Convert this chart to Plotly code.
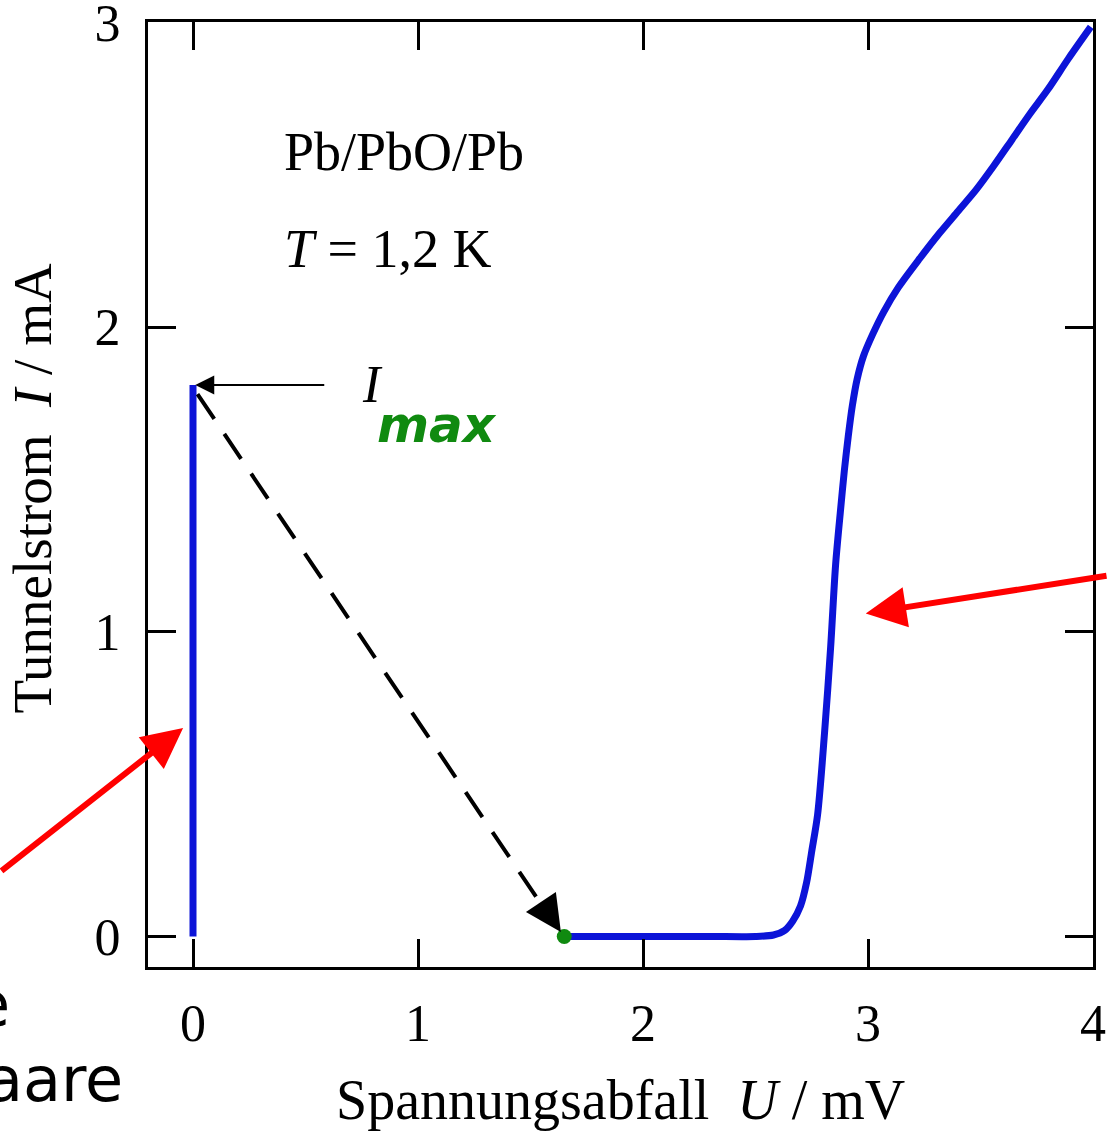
import plotly.graph_objects as go

# ---------------- data ----------------
# supercurrent branch (U = 0)
U_super = [0.0, 0.0]
I_super = [0.0, 1.81]

# quasiparticle tunnelling branch
U_quasi = [1.65, 2.00, 2.30, 2.50, 2.58, 2.63, 2.665, 2.70, 2.727, 2.75, 2.776,
           2.807, 2.834, 2.856, 2.878, 2.895, 2.912, 2.93, 2.952, 2.98, 3.02,
           3.07, 3.135, 3.23, 3.32, 3.40, 3.48, 3.56, 3.64, 3.72, 3.80, 3.89, 3.99]
I_quasi = [0.0, 0.0, 0.0, 0.0, 0.005, 0.02, 0.05, 0.10, 0.177, 0.28, 0.40,
           0.67, 0.95, 1.22, 1.40, 1.53, 1.64, 1.74, 1.83, 1.905, 1.975,
           2.05, 2.13, 2.225, 2.31, 2.38, 2.45, 2.53, 2.615, 2.70, 2.78, 2.88, 2.985]

I_max = 1.81      # critical current
U_jump = 1.65     # voltage after the switch

x_ticks = [0, 1, 2, 3, 4]
x_tick_text = ["0", "1", "2", "3", "4"]
y_ticks = [0, 1, 2, 3]
y_tick_text = ["0", "1", "2", "3"]

BLUE = "#0c14d8"
SERIF = "Liberation Serif"

fig = go.Figure()

fig.add_trace(go.Scatter(x=U_super, y=I_super, mode="lines",
                         line=dict(color=BLUE, width=7), showlegend=False))
fig.add_trace(go.Scatter(x=U_quasi, y=I_quasi, mode="lines",
                         line=dict(color=BLUE, width=7, shape="spline", smoothing=0.8),
                         showlegend=False))
# dashed switching line
fig.add_trace(go.Scatter(x=[U_super[-1] + 0.02, U_jump - 0.07], y=[I_max - 0.03, 0.07],
                         mode="lines", line=dict(color="black", width=4, dash="30px,18px"),
                         showlegend=False))
# green dot
fig.add_trace(go.Scatter(x=[U_jump], y=[0.0], mode="markers",
                         marker=dict(color="#108a10", size=15, symbol="circle"),
                         showlegend=False))

ann = []
# arrowhead of dashed line
ann.append(dict(x=U_jump - 0.015, y=0.015, xref="x", yref="y", ax=-20, ay=-30,
                showarrow=True, arrowhead=2, arrowsize=1.8, arrowwidth=4,
                arrowcolor="black", text=""))
# I_max horizontal arrow
ann.append(dict(x=0.01, y=I_max, xref="x", yref="y", ax=0.59, ay=I_max,
                axref="x", ayref="y", showarrow=True, arrowhead=2, arrowsize=1.9,
                arrowwidth=2, arrowcolor="black", text=""))
ann.append(dict(x=0.74, y=1.81, xref="x", yref="y", text="<i>I</i>", showarrow=False,
                xanchor="left", yanchor="middle", font=dict(family=SERIF, size=52, color="black")))
ann.append(dict(x=0.81, y=1.68, xref="x", yref="y", text="<b><i>max</i></b>", showarrow=False,
                xanchor="left", yanchor="middle", font=dict(family="DejaVu Sans", size=50, color="#108a10")))
# sample text
ann.append(dict(x=0.396, y=2.575, xref="x", yref="y", text="Pb/PbO/Pb", showarrow=False,
                xanchor="left", yanchor="middle", font=dict(family=SERIF, size=54, color="black")))
ann.append(dict(x=0.396, y=2.255, xref="x", yref="y", text="<i>T</i> = 1,2 K", showarrow=False,
                xanchor="left", yanchor="middle", font=dict(family=SERIF, size=54, color="black")))
# red arrows
ann.append(dict(x=-0.044, y=0.684, xref="x", yref="y", ax=-213, ay=144,
                showarrow=True, arrowhead=2, arrowsize=1.35, arrowwidth=6,
                arrowcolor="#ff0000", text=""))
ann.append(dict(x=2.99, y=1.06, xref="x", yref="y", ax=270, ay=-38,
                showarrow=True, arrowhead=2, arrowsize=1.35, arrowwidth=6,
                arrowcolor="#ff0000", text=""))
# axis titles
ann.append(dict(x=-0.122, y=0.507, xref="paper", yref="paper",
                text="Tunnelstrom\u00a0\u00a0<i>I</i> / mA", textangle=-90, showarrow=False,
                xanchor="center", yanchor="middle", font=dict(family=SERIF, size=55, color="black")))
ann.append(dict(x=0.4995, y=-0.141, xref="paper", yref="paper",
                text="Spannungsabfall\u00a0\u00a0<i>U</i> / mV", showarrow=False,
                xanchor="center", yanchor="middle", font=dict(family=SERIF, size=56, color="black")))
# cut-off slide text at the lower left
ann.append(dict(x=-0.144, y=-0.040, xref="paper", yref="paper", text="e", showarrow=False,
                xanchor="right", yanchor="middle", font=dict(family="DejaVu Sans", size=62, color="black")))
ann.append(dict(x=-0.0245, y=-0.119, xref="paper", yref="paper", text="aare", showarrow=False,
                xanchor="right", yanchor="middle", font=dict(family="DejaVu Sans", size=62, color="black")))

axis_common = dict(showline=True, linewidth=3, linecolor="black", mirror="ticks",
                   ticks="inside", ticklen=28, tickwidth=3, tickcolor="black",
                   showgrid=False, zeroline=False, automargin=False,
                   ticklabeloverflow="allow",
                   tickfont=dict(family=SERIF, size=52, color="black"))

fig.update_layout(
    width=1108, height=1138,
    margin=dict(l=148, r=15, t=22, b=171),
    paper_bgcolor="white", plot_bgcolor="white",
    xaxis=dict(range=[-0.2, 4.0], tickvals=x_ticks, ticktext=x_tick_text,
               ticklabelstandoff=9, **axis_common),
    yaxis=dict(range=[-0.1, 3.001], tickvals=y_ticks, ticktext=y_tick_text,
               ticklabelstandoff=14, **axis_common),
    annotations=ann,
    showlegend=False,
)

fig.write_html("out.html", config={"displayModeBar": False},
               post_script="document.body.style.margin='0px';")
